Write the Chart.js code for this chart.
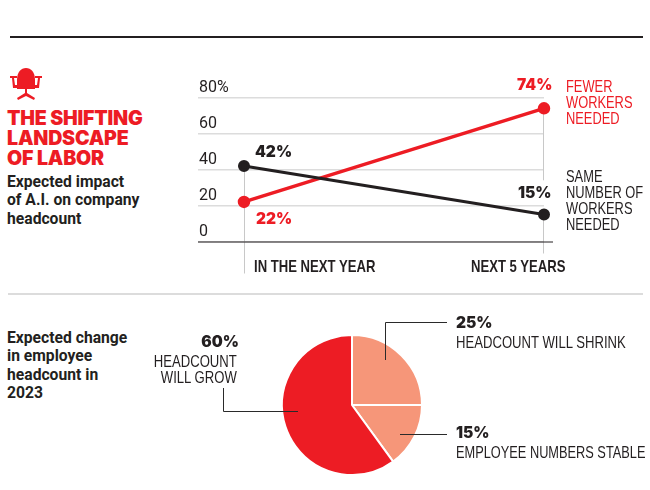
<!DOCTYPE html>
<html>
<head>
<meta charset="utf-8">
<script src="https://cdn.jsdelivr.net/npm/chart.js@4"></script>
<style>
html, body { margin: 0; padding: 0; background: #fff; }
#page { position: relative; width: 650px; height: 490px; overflow: hidden; color: #231f20; }
canvas { position: absolute; }
.rule { position: absolute; }
.txt { position: absolute; white-space: nowrap; }
.title { font: 900 19.6px/20px Inter, sans-serif; color: #ed1c24; letter-spacing: -0.2px; }
.sub { font: 700 16.5px/18.3px Roboto, sans-serif; transform: scaleX(0.95); transform-origin: left top; }
.lab { font: 400 16.4px/16px "Liberation Sans", sans-serif; transform: scaleX(0.785); transform-origin: left top; }
.lab.right { transform-origin: right top; text-align: right; transform: scaleX(0.8); }
.red { color: #ed1c24; }
.bold { font-weight: 700; transform: scaleX(0.8); }
</style>
</head>
<body>
<div id="page">
  <div class="rule" style="left:10px;top:36px;width:633px;height:2px;background:#231f20"></div>
  <div class="rule" style="left:8px;top:293px;width:635px;height:2px;background:#dcdcdc"></div>
  <svg style="position:absolute;left:9px;top:67px" width="34" height="34" viewBox="0 0 34 34">
    <path fill="#ed1c24" d="M8 13 C8 5 12 1 17 1 C22 1 26 5 26 13 L26 22 L8 22 Z"/>
    <path fill="#ed1c24" d="M1 9 H8 V11 H5 L6 18 H8 V21 H4 L3 11 H1 Z M33 9 H26 V11 H29 L28 18 H26 V21 H30 L31 11 H33 Z"/>
    <path fill="#ed1c24" d="M16 22 H18 V26 L26 31 L25 33 L17 29 L9 33 L8 31 L16 26 Z"/>
  </svg>
  <div class="txt title" style="left:7px;top:108px">THE SHIFTING<br>LANDSCAPE<br>OF LABOR</div>
  <div class="txt sub" style="left:7px;top:173px">Expected impact<br>of A.I. on company<br>headcount</div>
  <div class="txt sub" style="left:7px;top:329px">Expected change<br>in employee<br>headcount in<br>2023</div>

  <canvas id="lineChart" width="460" height="230" style="left:190px;top:60px"></canvas>
  <canvas id="pieChart" width="650" height="195" style="left:0;top:295px"></canvas>

  <div class="txt lab red" style="left:566px;top:78px">FEWER<br>WORKERS<br>NEEDED</div>
  <div class="txt lab" style="left:566px;top:168px">SAME<br>NUMBER OF<br>WORKERS<br>NEEDED</div>
  <div class="txt lab bold" id="period0" style="left:254px;top:258px"></div>
  <div class="txt lab bold" id="period1" style="left:471px;top:258px"></div>
  <div class="txt lab right" style="right:413px;top:353px">HEADCOUNT<br>WILL GROW</div>
  <div class="txt lab" style="left:456px;top:334px;transform:scaleX(0.8)">HEADCOUNT WILL SHRINK</div>
  <div class="txt lab" style="left:456px;top:444px;transform:scaleX(0.78)">EMPLOYEE NUMBERS STABLE</div>
</div>
<script>
// line chart data
const periods = ['IN THE NEXT YEAR', 'NEXT 5 YEARS'];
const fewerWorkers = [22, 74];
const sameWorkers = [42, 15];
const yTicks = [0, 20, 40, 60, 80];

// pie data
const pieLabels = ['HEADCOUNT WILL SHRINK', 'EMPLOYEE NUMBERS STABLE', 'HEADCOUNT WILL GROW'];
const pieValues = [25, 15, 60];

const RED = '#ed1c24';
const SALMON = '#f69679';
const DARK = '#231f20';
const GREY = '#c8c8c8';
const valueFont = '900 15.5px Inter, sans-serif';

document.getElementById('period0').textContent = periods[0];
document.getElementById('period1').textContent = periods[1];

function toPoints(values) {
    return values.map(function (v, i) { return { x: i, y: v }; });
}

// vertical guides, baseline and value labels for the line chart
const lineExtras = {
    id: 'lineExtras',
    beforeDatasetsDraw: function (chart) {
        const c = chart.ctx, x = chart.scales.x, y = chart.scales.y;
        c.save();
        c.strokeStyle = GREY;
        c.lineWidth = 1;
        const x0 = Math.round(x.getPixelForValue(0)) + 0.5;
        const x1 = Math.round(x.getPixelForValue(1)) - 0.5;
        c.beginPath();
        c.moveTo(x0, y.getPixelForValue(sameWorkers[0]));
        c.lineTo(x0, y.bottom + 32);
        c.moveTo(x1, y.getPixelForValue(fewerWorkers[1]));
        c.lineTo(x1, y.getPixelForValue(34));
        c.moveTo(x1, y.getPixelForValue(sameWorkers[1]));
        c.lineTo(x1, y.bottom + 12);
        c.stroke();
        c.strokeStyle = DARK;
        c.beginPath();
        c.moveTo(x.left, y.bottom + 0.5);
        c.lineTo(x.right + 9, y.bottom + 0.5);
        c.stroke();
        c.restore();
    },
    afterDatasetsDraw: function (chart) {
        const c = chart.ctx, x = chart.scales.x, y = chart.scales.y;
        c.save();
        c.font = valueFont;
        c.textBaseline = 'middle';
        c.textAlign = 'left';
        c.fillStyle = DARK;
        c.fillText(sameWorkers[0] + '%', x.getPixelForValue(0) + 11, y.getPixelForValue(sameWorkers[0]) - 14);
        c.fillText(sameWorkers[1] + '%', x.getPixelForValue(1) - 26, y.getPixelForValue(sameWorkers[1]) - 21);
        c.fillStyle = RED;
        c.fillText(fewerWorkers[0] + '%', x.getPixelForValue(0) + 12, y.getPixelForValue(fewerWorkers[0]) + 17);
        c.fillText(fewerWorkers[1] + '%', x.getPixelForValue(1) - 27, y.getPixelForValue(fewerWorkers[1]) - 23);
        c.restore();
    }
};

new Chart(document.getElementById('lineChart'), {
    type: 'line',
    data: {
        labels: periods,
        datasets: [
            {
                label: 'Same number of workers needed',
                data: toPoints(sameWorkers),
                borderColor: DARK, backgroundColor: DARK,
                borderWidth: 3, pointRadius: 4.5, pointHoverRadius: 4.5, clip: false
            },
            {
                label: 'Fewer workers needed',
                data: toPoints(fewerWorkers),
                borderColor: RED, backgroundColor: RED,
                borderWidth: 3.5, pointRadius: 4.5, pointHoverRadius: 4.5, clip: false
            }
        ]
    },
    options: {
        responsive: false,
        animation: false,
        layout: { padding: { left: 6, right: 106, top: 37.5, bottom: 40.5 } },
        plugins: { legend: { display: false }, tooltip: { enabled: false } },
        scales: {
            x: {
                type: 'linear', min: -0.1533, max: 1,
                grid: { display: false }, border: { display: false },
                ticks: { display: false }
            },
            y: {
                min: 0, max: 80,
                afterBuildTicks: function (axis) {
                    axis.ticks = yTicks.map(function (v) { return { value: v }; });
                },
                grid: { color: '#dcdcdc', lineWidth: 1.5, drawTicks: false },
                border: { display: false },
                ticks: {
                    mirror: true, padding: 1, labelOffset: -10,
                    color: DARK, font: { family: 'Roboto', size: 16, weight: '400' },
                    callback: function (v) { return v === 80 ? '80%' : v; }
                }
            }
        }
    },
    plugins: [lineExtras]
});

// leader lines and value labels for the pie
const pieExtras = {
    id: 'pieExtras',
    afterDatasetsDraw: function (chart) {
        const c = chart.ctx;
        const arc = chart.getDatasetMeta(0).data[0];
        const cx = arc.x, cy = arc.y;
        c.save();
        c.strokeStyle = '#2a2a2a';
        c.lineWidth = 1;
        c.beginPath();
        c.moveTo(cx + 95, cy - 82.5); c.lineTo(cx + 33.5, cy - 82.5); c.lineTo(cx + 33.5, cy - 45);
        c.moveTo(cx + 95, cy + 29.5); c.lineTo(cx + 48, cy + 29.5);
        c.moveTo(cx - 128.5, cy - 17); c.lineTo(cx - 128.5, cy + 6.5); c.lineTo(cx - 54, cy + 6.5);
        c.stroke();
        c.font = valueFont;
        c.fillStyle = DARK;
        c.textBaseline = 'middle';
        c.textAlign = 'left';
        c.fillText(pieValues[0] + '%', cx + 104, cy - 82);
        c.fillText(pieValues[1] + '%', cx + 104, cy + 28);
        c.textAlign = 'right';
        c.fillText(pieValues[2] + '%', cx - 113, cy - 63);
        c.restore();
    }
};

new Chart(document.getElementById('pieChart'), {
    type: 'pie',
    data: {
        labels: pieLabels,
        datasets: [{
            data: pieValues,
            backgroundColor: [SALMON, SALMON, RED],
            borderColor: '#fff',
            borderWidth: 2
        }]
    },
    options: {
        responsive: false,
        animation: false,
        layout: { padding: { left: 281, right: 227, top: 39, bottom: 14 } },
        plugins: { legend: { display: false }, tooltip: { enabled: false } }
    },
    plugins: [pieExtras]
});
</script>
</body>
</html>
